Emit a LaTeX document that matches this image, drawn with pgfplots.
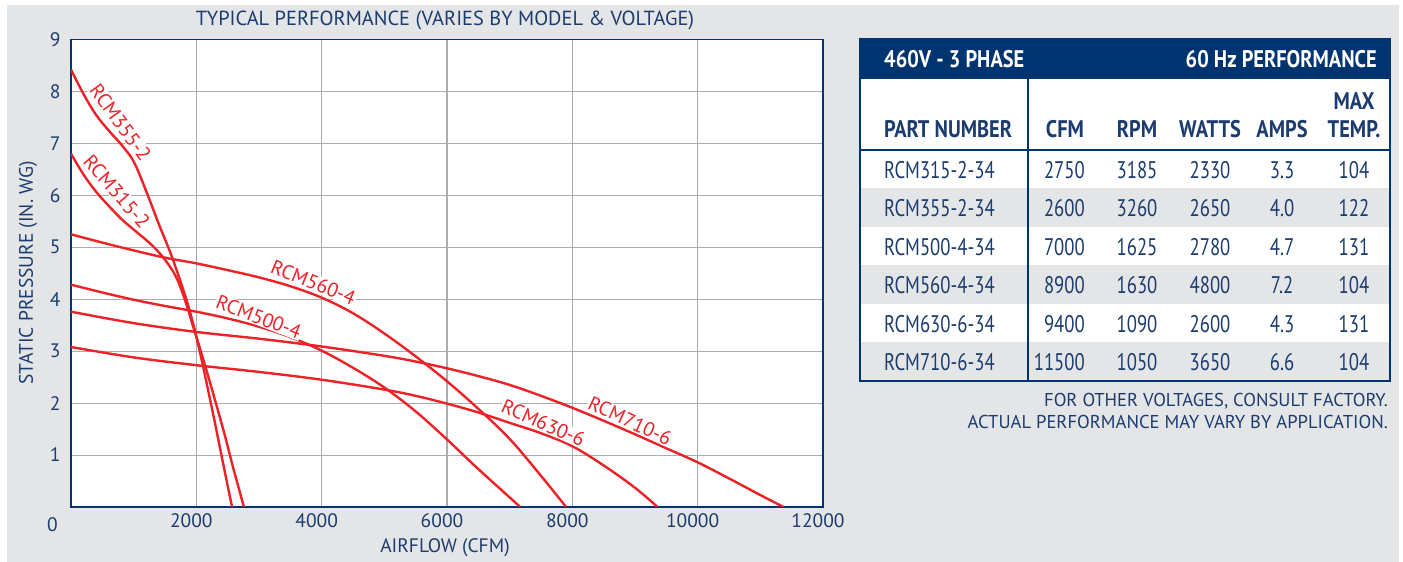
\documentclass[border=0pt]{standalone}
\usepackage{fontspec}
\setmainfont{PT Sans}
\newfontfamily\condfont[FakeStretch=0.78]{PT Sans}
\newfontfamily\condbf[FakeStretch=0.85]{PT Sans}
\usepackage{pgfplots}
\pgfplotsset{compat=1.18}
\definecolor{panel}{RGB}{228,229,231}
\definecolor{navy}{RGB}{0,52,113}
\definecolor{navytext}{RGB}{28,60,112}
\definecolor{curvered}{RGB}{236,34,39}
\definecolor{gridgray}{RGB}{170,172,175}
\definecolor{rowgray}{RGB}{228,229,231}
\begin{document}
\begin{tikzpicture}[x=1pt,y=1pt]
\useasboundingbox (0,0) rectangle (1403,562);
\fill[white] (0,0) rectangle (1403,562);
\fill[panel] (7,0) rectangle (1399,557);
\begin{axis}[at={(71pt,55pt)}, anchor=south west, scale only axis,
  width=752pt, height=467.5pt,
  xmin=0, xmax=12000, ymin=0, ymax=9,
  xtick={2000,4000,6000,8000,10000,12000}, ytick={1,2,3,4,5,6,7,8,9},
  grid=major, major grid style={gridgray, line width=1.1pt},
  axis line style={navy, line width=1.5pt},
  major tick length=0pt,
  tick label style={font=\fontsize{19.5}{23}\selectfont, text=navytext},
  /pgf/number format/assume math mode=true,
  scaled x ticks=false, /pgf/number format/1000 sep={},
  axis background/.style={fill=white},
  yticklabel style={xshift=-7pt},
  xticklabel style={yshift=-3pt, xshift=-5pt},
  clip=true]
% RCM355-2
\addplot[curvered, line width=2.4pt, smooth, tension=0.6, mark=none] coordinates {(0,8.42) (200,7.95) (400,7.55) (600,7.25) (800,6.98) (1000,6.65) (1200,6.08) (1400,5.45) (1600,4.85) (1800,4.15) (1900,3.75) (2000,3.28) (2100,2.75) (2200,2.18) (2300,1.6) (2400,1.0) (2500,0.41) (2570,0)};
% RCM315-2
\addplot[curvered, line width=2.4pt, smooth, tension=0.6, mark=none] coordinates {(0,6.8) (200,6.4) (400,6.07) (600,5.8) (800,5.55) (1000,5.34) (1200,5.14) (1350,4.97) (1500,4.76) (1650,4.49) (1750,4.22) (1850,3.87) (1950,3.47) (2000,3.28) (2150,2.68) (2300,2.05) (2450,1.4) (2600,0.7) (2760,0)};
% RCM560-4
\addplot[curvered, line width=2.4pt, smooth, tension=0.6, mark=none] coordinates {(0,5.25) (500,5.09) (1000,4.94) (1500,4.8) (2000,4.69) (2500,4.56) (3000,4.42) (3500,4.25) (4000,4.03) (4500,3.73) (5000,3.34) (5500,2.9) (6000,2.42) (6500,1.89) (7000,1.31) (7500,0.6) (7900,0)};
% RCM500-4
\addplot[curvered, line width=2.4pt, smooth, tension=0.6, mark=none] coordinates {(0,4.28) (500,4.13) (1000,3.99) (1500,3.87) (2000,3.76) (2500,3.63) (3000,3.47) (3500,3.27) (4000,3.01) (4500,2.68) (5000,2.3) (5500,1.84) (6000,1.3) (6500,0.73) (7170,0)};
% RCM710-6
\addplot[curvered, line width=2.4pt, smooth, tension=0.6, mark=none] coordinates {(0,3.76) (1000,3.54) (2000,3.37) (3000,3.24) (4000,3.09) (5000,2.91) (5500,2.8) (6000,2.67) (6500,2.52) (7000,2.35) (7500,2.14) (8000,1.91) (8500,1.66) (9000,1.4) (9500,1.13) (10000,0.86) (10500,0.55) (11000,0.23) (11370,0)};
% RCM630-6
\addplot[curvered, line width=2.4pt, smooth, tension=0.6, mark=none] coordinates {(0,3.08) (1000,2.88) (2000,2.73) (3000,2.6) (4000,2.45) (5000,2.26) (5500,2.14) (6000,1.99) (6500,1.82) (7000,1.62) (7500,1.42) (8000,1.17) (8500,0.8) (9000,0.37) (9360,0)};
\begin{scope}[every node/.style={fill=white, inner sep=1pt, text=curvered, font=\fontsize{20}{24}\selectfont}]
\node[rotate=-54] at (axis cs:790,7.40) {RCM355-2};
\node[rotate=-49] at (axis cs:730,6.07) {RCM315-2};
\node[rotate=-22] at (axis cs:3867,4.32) {RCM560-4};
\node[rotate=-21] at (axis cs:2995,3.66) {RCM500-4};
\node[rotate=-24] at (axis cs:7537,1.62) {RCM630-6};
\node[rotate=-25] at (axis cs:8920,1.66) {RCM710-6};
\end{scope}
\end{axis}
% axis texts
\node[text=navytext, font=\fontsize{19.5}{23}\selectfont] at (52.5,37.5) {0};
\node[text=navytext, font=\fontsize{20.4}{24}\selectfont] at (445,541.5) {TYPICAL PERFORMANCE (VARIES BY MODEL \& VOLTAGE)};
\node[text=navytext, font=\fontsize{19.5}{23}\selectfont] at (445,14.5) {AIRFLOW (CFM)};
\node[text=navytext, font=\fontsize{19.5}{23}\selectfont, rotate=90] at (28,289) {STATIC PRESSURE (IN. WG)};
% table
\fill[white] (860,181) rectangle (1390,523);
\foreach \i in {1,3,5} {\fill[rowgray] (860,{412-38.5*(\i+1)}) rectangle (1390,{412-38.5*\i});}
\fill[navy] (860,523) rectangle (1390,483);
\draw[navy, line width=2.5pt] (860,412) -- (1390,412);
\draw[navy, line width=2.5pt] (1028,483) -- (1028,181);
\draw[navy, line width=2.5pt] (860,181) rectangle (1390,523);
\begin{scope}[every node/.style={inner sep=0pt}]
\node[anchor=base west, text=white, font=\condbf\bfseries\fontsize{24}{28}\selectfont] at (884,494.7) {460V - 3 PHASE};
\node[anchor=base east, text=white, font=\condbf\bfseries\fontsize{24}{28}\selectfont] at (1377,494.7) {60 Hz PERFORMANCE};
\begin{scope}[every node/.append style={text=navytext, font=\condbf\bfseries\fontsize{24}{28}\selectfont}]
\node[anchor=base west] at (884,424) {PART NUMBER};
\node[anchor=base] at (1065,424) {CFM};
\node[anchor=base] at (1137,424) {RPM};
\node[anchor=base] at (1210,424) {WATTS};
\node[anchor=base] at (1282,424) {AMPS};
\node[anchor=base] at (1354,424) {TEMP.};
\node[anchor=base] at (1354,452) {MAX};
\end{scope}
\begin{scope}[every node/.append style={text=navytext, font=\condfont\fontsize{24}{28}\selectfont}]
\foreach \pn/\cfm/\rpm/\w/\a/\t [count=\k from 0] in {RCM315-2-34/2750/3185/2330/3.3/104, RCM355-2-34/2600/3260/2650/4.0/122, RCM500-4-34/7000/1625/2780/4.7/131, RCM560-4-34/8900/1630/4800/7.2/104, RCM630-6-34/9400/1090/2600/4.3/131, RCM710-6-34/11500/1050/3650/6.6/104} {
  \pgfmathsetmacro{\yb}{412-38.5*\k-28.5}
  \node[anchor=base west] at (884,\yb) {\pn};
  \node[anchor=base east] at (1085,\yb) {\cfm};
  \node[anchor=base] at (1137,\yb) {\rpm};
  \node[anchor=base] at (1210,\yb) {\w};
  \node[anchor=base] at (1282,\yb) {\a};
  \node[anchor=base] at (1354,\yb) {\t};
}
\end{scope}
\node[anchor=base east, text=navytext, font=\fontsize{18.6}{22}\selectfont] at (1388,155.3) {FOR OTHER VOLTAGES, CONSULT FACTORY.};
\node[anchor=base east, text=navytext, font=\fontsize{18.6}{22}\selectfont] at (1388,133.7) {ACTUAL PERFORMANCE MAY VARY BY APPLICATION.};
\end{scope}
\end{tikzpicture}
\end{document}
